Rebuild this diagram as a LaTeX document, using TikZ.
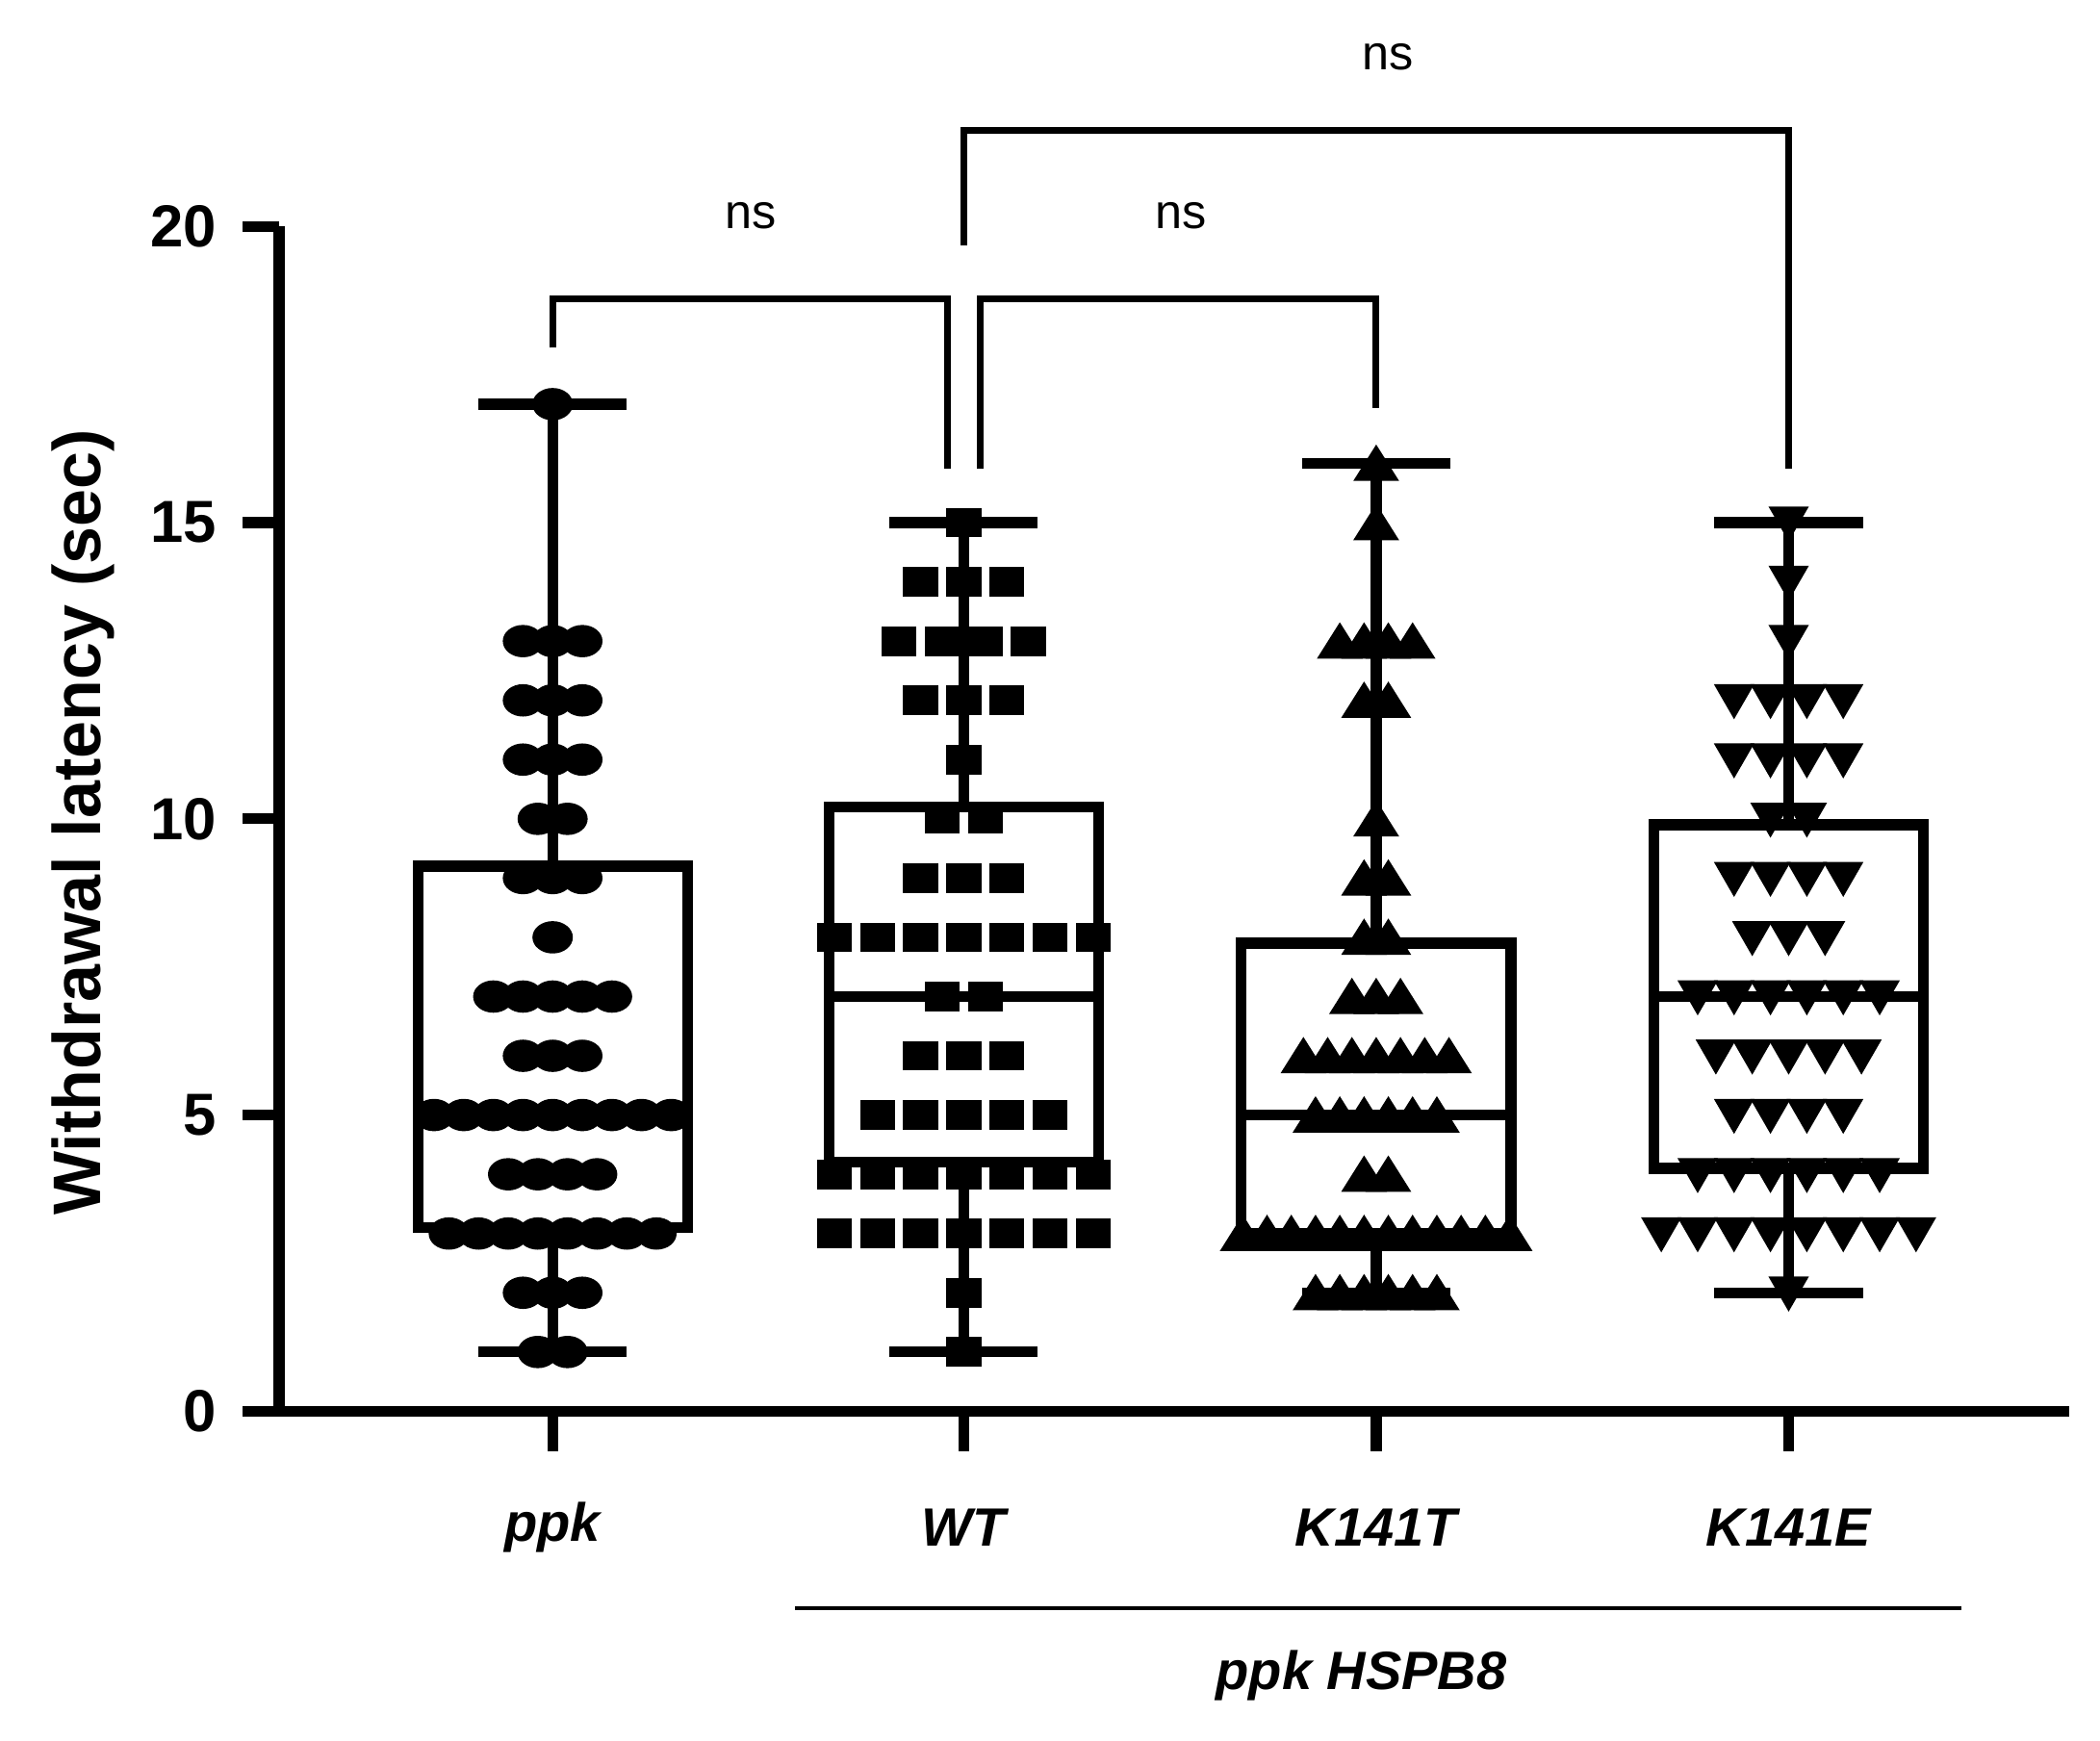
\documentclass[tikz,border=0pt]{standalone}
\usepackage{fontspec}
\setmainfont{Liberation Sans}
\begin{document}
\begin{tikzpicture}[x=1pt,y=1pt,line width=8pt,
  tk/.style={font=\fontsize{44}{48}\selectfont\bfseries},
  gl/.style={font=\fontsize{40}{44}\selectfont\bfseries\itshape},
  ns/.style={font=\fontsize{36}{40}\selectfont}]
\useasboundingbox (0,0) rectangle (1558,-1291);
% axes
\draw (207,-168) -- (207,-1047) -- (1535,-1047);
\foreach \v in {0,5,10,15,20}{
  \draw (180,{43.95*\v-1047}) -- (207,{43.95*\v-1047});
  \node[tk,anchor=east] (t\v) at (168,{43.95*\v-1047}) {\v};}
\foreach \gx in {410,715,1021,1327}{\draw (\gx,-1047) -- (\gx,-1077);}
\node[rotate=90,font=\fontsize{50}{54}\selectfont\bfseries] (yl) at (62,-610) {Withdrawal latency (sec)};
% boxes: x, min, q1, med, q3, max
\foreach \gx/\mn/\qa/\md/\qb/\mx in {410/1/3.1/5/9.2/17, 715/1/4.2/7/10.2/15, 1021/2/3/5/7.9/16, 1327/2/4.1/7/9.9/15}{
  \draw (\gx,{43.95*\mn-1047}) -- (\gx,{43.95*\qa-1047});
  \draw (\gx,{43.95*\qb-1047}) -- (\gx,{43.95*\mx-1047});
  \draw ({\gx-55},{43.95*\mn-1047}) -- ({\gx+55},{43.95*\mn-1047});
  \draw ({\gx-55},{43.95*\mx-1047}) -- ({\gx+55},{43.95*\mx-1047});
  \draw ({\gx-100},{43.95*\qa-1047}) rectangle ({\gx+100},{43.95*\qb-1047});
  \draw ({\gx-100},{43.95*\md-1047}) -- ({\gx+100},{43.95*\md-1047});
}
% ppk circles
\foreach \v/\n in {17/1,13/3,12/3,11/3,10/2,9/3,8/1,7/5,6/3,5/9,4/4,3/8,2/3,1/2}{
  \foreach \i in {1,...,\n}{\fill ({410+(\i-(\n+1)/2)*22},{43.95*\v-1047}) circle[x radius=15,y radius=12];}}
% WT squares
\foreach \v/\n in {15/1,14/3,13/4,12/3,11/1,10/2,9/3,8/7,7/2,6/3,5/5,4/7,3/7,2/1,1/1}{
  \foreach \i in {1,...,\n}{\fill ({715+(\i-(\n+1)/2)*32-13},{43.95*\v-1047-11}) rectangle ++(26,22);}}
% K141T up triangles
\foreach \v/\n in {16/1,15/1,13/4,12/2,10/1,9/2,8/2,7/3,6/7,5/6,4/2,3/12,2/6}{
  \foreach \i in {1,...,\n}{\fill ({1021+(\i-(\n+1)/2)*18},{43.95*\v-1047+14}) -- ++(-17,-27) -- ++(34,0) -- cycle;}}
% K141E down triangles
\foreach \v/\n in {15/1,14/1,13/1,12/4,11/4,10/2,9/4,8/3,7/6,6/5,5/4,4/6,3/8,2/1}{
  \foreach \i in {1,...,\n}{\fill ({1327+(\i-(\n+1)/2)*27},{43.95*\v-1047-14}) -- ++(-15,26) -- ++(30,0) -- cycle;}}
% brackets
\draw[line width=5pt] (410,-258) -- (410,-222) -- (703,-222) -- (703,-348);
\draw[line width=5pt] (727,-348) -- (727,-222) -- (1021,-222) -- (1021,-303);
\draw[line width=5pt] (715,-182) -- (715,-97) -- (1327,-97) -- (1327,-348);
\node[ns] (n1) at (557,-160) {ns};
\node[ns] (n2) at (876,-160) {ns};
\node[ns] (n3) at (1030,-42) {ns};
% group labels
\node[gl] (g1) at (410,-1133) {ppk};
\node[gl] (g2) at (715,-1133) {WT};
\node[gl] (g3) at (1021,-1133) {K141T};
\node[gl] (g4) at (1327,-1133) {K141E};
\draw[line width=3pt] (590,-1193) -- (1455,-1193);
\node[gl] (g5) at (1010,-1243) {ppk HSPB8};
\end{tikzpicture}
\end{document}
